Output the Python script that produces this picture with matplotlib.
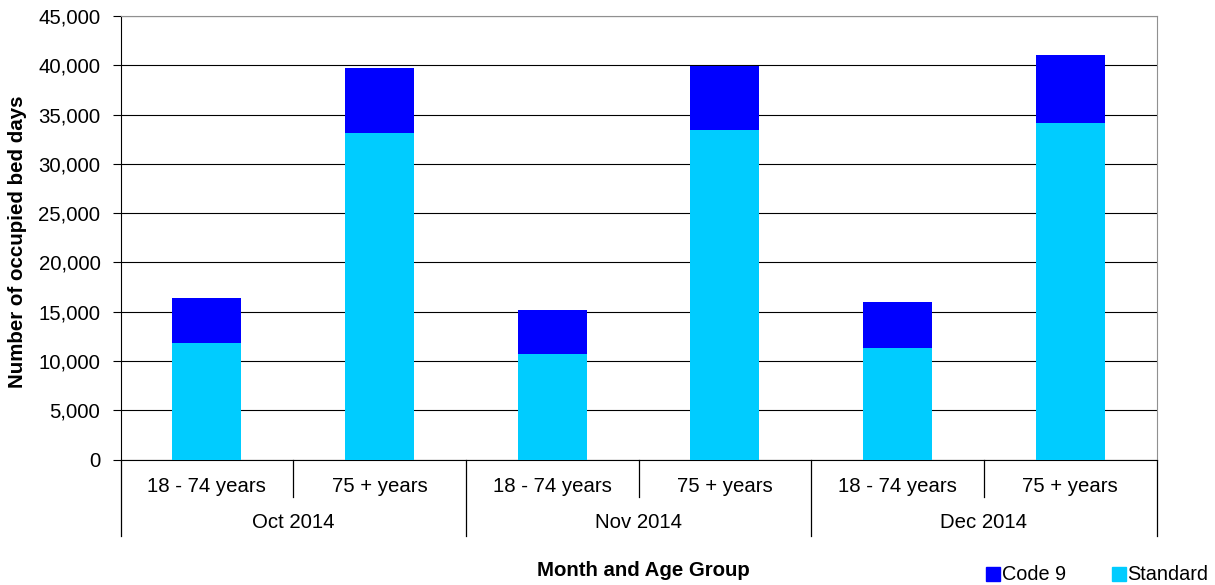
import matplotlib
matplotlib.use('Agg')
import matplotlib.pyplot as plt
from matplotlib.lines import Line2D
from matplotlib.ticker import FuncFormatter

plt.rcParams['font.family'] = ['Liberation Sans', 'DejaVu Sans']

months = ['Oct 2014', 'Nov 2014', 'Dec 2014']
age_groups = ['18 - 74 years', '75 + years']
standard = [11800, 33100, 10700, 33400, 11300, 34100]
code9 = [4550, 6650, 4500, 6500, 4700, 6950]

col_std = '#00CCFF'
col_c9 = '#0000FF'

fig = plt.figure(figsize=(12.15, 5.85), dpi=100)
ax = fig.add_axes([0.0992, 0.2145, 0.8528, 0.7581])

x = list(range(len(standard)))
ax.bar(x, standard, width=0.4, color=col_std, zorder=3)
ax.bar(x, code9, width=0.4, bottom=standard, color=col_c9, zorder=3)

ax.set_xlim(-0.5, len(x) - 0.5)
ax.set_ylim(0, 45000)
ax.set_yticks(range(0, 45001, 5000))
ax.yaxis.set_major_formatter(FuncFormatter(lambda v, p: f'{int(v):,}'))
ax.tick_params(axis='y', labelsize=14.7, length=5.5, width=0.8, pad=9)
ax.set_xticks([])
ax.grid(axis='y', color='black', linewidth=0.8)
ax.set_axisbelow(True)

for s in ['top', 'right']:
    ax.spines[s].set_color('#909090')
    ax.spines[s].set_linewidth(0.8)
for s in ['left', 'bottom']:
    ax.spines[s].set_color('black')
    ax.spines[s].set_linewidth(0.8)

# two-level category axis
tr = ax.get_xaxis_transform()
small_y = -0.0846
big_y = -0.1725
for i in range(len(x)):
    ax.text(i, -0.06, age_groups[i % 2], transform=tr, ha='center', va='center',
            fontsize=14.7)
for i in range(len(x) + 1):
    xb = i - 0.5
    yb = big_y if i % 2 == 0 else small_y
    ax.add_line(Line2D([xb, xb], [0, yb], transform=tr, color='black',
                       linewidth=0.9, clip_on=False))
for j, m in enumerate(months):
    ax.text(2 * j + 0.5, -0.143, m, transform=tr, ha='center', va='center',
            fontsize=14.7)

fig.text(18 / 1215, 1 - 242 / 585, 'Number of occupied bed days', rotation=90,
         ha='center', va='center', fontsize=14.8, fontweight='bold')
fig.text(643 / 1215, 1 - 570 / 585, 'Month and Age Group', ha='center',
         va='center', fontsize=14.7, fontweight='bold')

handles = [Line2D([], [], marker='s', linestyle='none', markersize=9.5,
                  markerfacecolor=c, markeredgecolor=c) for c in (col_c9, col_std)]
fig.legend(handles, ['Code 9', 'Standard'], loc='center left',
           bbox_to_anchor=(986 / 1215, 1 - 575 / 585), ncol=2, frameon=False,
           fontsize=14.3, handlelength=0.7, handletextpad=0.1, columnspacing=2.3,
           borderpad=0, borderaxespad=0)

fig.savefig('out.png', dpi=100)
